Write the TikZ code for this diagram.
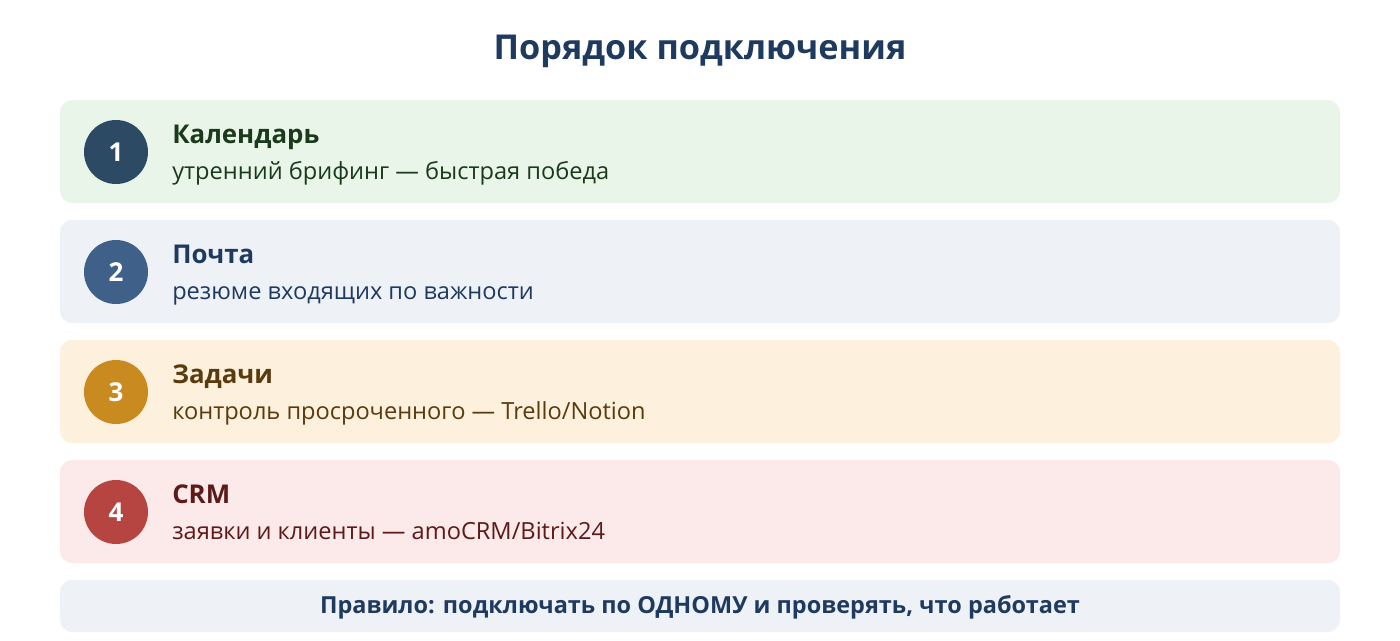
\documentclass[tikz,border=0pt]{standalone}
\usepackage{fontspec}
\setmainfont{Open Sans}
\usepackage{xcolor}
\usepackage{tikz}
\usetikzlibrary{positioning}
\definecolor{titleblue}{HTML}{1F3A5F}
\definecolor{greenbg}{HTML}{EAF5EA}
\definecolor{greentx}{HTML}{1B3A1B}
\definecolor{greencirc}{HTML}{2C4A63}
\definecolor{bluebg}{HTML}{EEF2F7}
\definecolor{bluecirc}{HTML}{3F6189}
\definecolor{orangebg}{HTML}{FDF0DC}
\definecolor{orangetx}{HTML}{5A3B0E}
\definecolor{orangecirc}{HTML}{C98B20}
\definecolor{redbg}{HTML}{FCE9E9}
\definecolor{redtx}{HTML}{5C1A1A}
\definecolor{redcirc}{HTML}{B64441}

\begin{document}
\begin{tikzpicture}[x=0.75pt,y=-0.75pt,
  card/.style={rounded corners=9pt},
  numdot/.style={circle,minimum size=48pt,inner sep=0pt,text=white,font=\fontsize{19.5}{22}\selectfont\bfseries},
  cardhead/.style={anchor=base west,inner sep=0pt,font=\fontsize{19.4}{22}\selectfont\bfseries},
  cardtext/.style={anchor=base west,inner sep=0pt,font=\fontsize{17.7}{21}\selectfont}]
\useasboundingbox (0,0) rectangle (1400,640);
\node[text=titleblue,font=\fontsize{25.7}{30}\selectfont\bfseries] (title) at (700,51) {Порядок подключения};
% step 1
\fill[card,greenbg] (60,100) rectangle (1340,203);
\node[numdot,fill=greencirc] (n1) at (116,152) {1};
\node[cardhead,text=greentx] (h1) at (172,143) {Календарь};
\node[cardtext,text=greentx] (t1) at (172,179) {утренний брифинг — быстрая победа};
% step 2
\fill[card,bluebg] (60,220) rectangle (1340,323);
\node[numdot,fill=bluecirc] (n2) at (116,272) {2};
\node[cardhead,text=titleblue] (h2) at (172,263) {Почта};
\node[cardtext,text=titleblue] (t2) at (172,299) {резюме входящих по важности};
% step 3
\fill[card,orangebg] (60,340) rectangle (1340,443);
\node[numdot,fill=orangecirc] (n3) at (116,392) {3};
\node[cardhead,text=orangetx] (h3) at (172,383) {Задачи};
\node[cardtext,text=orangetx] (t3) at (172,419) {контроль просроченного — Trello/Notion};
% step 4
\fill[card,redbg] (60,460) rectangle (1340,563);
\node[numdot,fill=redcirc] (n4) at (116,512) {4};
\node[cardhead,text=redtx] (h4) at (172,503) {CRM};
\node[cardtext,text=redtx] (t4) at (172,539) {заявки и клиенты — amoCRM/Bitrix24};
% rule
\fill[card,bluebg] (60,580) rectangle (1340,632);
\node[text=titleblue,font=\fontsize{17.6}{20}\selectfont\bfseries] (rule) at (700,607) {Правило: подключать по ОДНОМУ и проверять, что работает};
\end{tikzpicture}
\end{document}
